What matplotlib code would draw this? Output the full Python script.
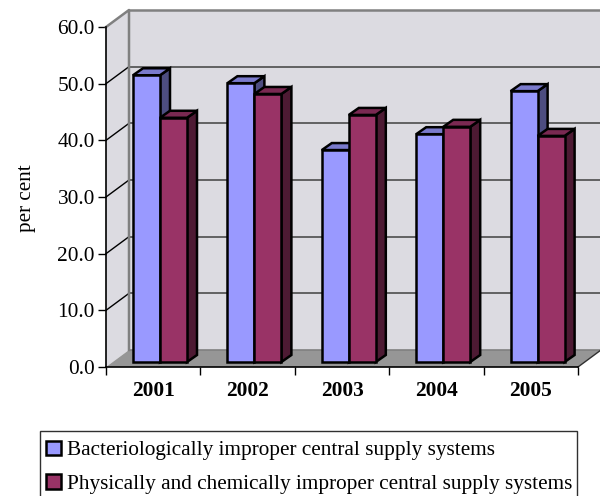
import matplotlib
matplotlib.use('Agg')
import matplotlib.pyplot as plt
from matplotlib.patches import Polygon, Patch, Rectangle

plt.rcParams['font.family'] = ['Liberation Serif', 'DejaVu Serif']

years = ['2001', '2002', '2003', '2004', '2005']
bacterial = [50.6, 49.2, 37.4, 40.2, 47.8]
chemical = [43.1, 47.3, 43.6, 41.5, 39.9]
names = ['Bacteriologically improper central supply systems',
         'Physically and chemically improper central supply systems']
yticks = [0, 10, 20, 30, 40, 50, 60]

W, H = 600, 496
fig = plt.figure(figsize=(W / 100, H / 100), dpi=100)
ax = fig.add_axes([106 / W, 1 - 367 / H, 472 / W, 340 / H])
ax.set_xlim(0, 5)
ax.set_ylim(0, 60)

# pixel sizes -> data units
px = 5 / 472
py = 60 / 340
dx, dy = 23 * px, 17 * py       # depth of the box
bx, by = 10 * px, 7 * py        # depth of a bar
lift_y = 5 * py                 # bars stand a bit inside the floor
bar_w = 27 * px
ymax = 60


def poly(pts, **kw):
    p = Polygon(pts, closed=True, clip_on=False, **kw)
    ax.add_patch(p)


wall = '#dcdbe1'
poly([(dx, dy), (5 + dx, dy), (5 + dx, ymax + dy), (dx, ymax + dy)], fc=wall, ec='none', zorder=1)
poly([(0, 0), (dx, dy), (dx, ymax + dy), (0, ymax)], fc=wall, ec='none', zorder=1)
poly([(0, 0), (5, 0), (5 + dx, dy), (dx, dy)], fc='#969696', ec='none', zorder=1)

for t in yticks[1:-1]:
    ax.plot([dx, 5 + dx], [t + dy, t + dy], color='#404040', lw=1.1, zorder=2, clip_on=False)
    ax.plot([0, dx], [t, t + dy], color='black', lw=1.0, zorder=2, clip_on=False)
ax.plot([0, dx, dx], [ymax, ymax + dy, dy], color='#808080', lw=1.8, zorder=2, clip_on=False)
ax.plot([dx, 5 + dx], [ymax + dy, ymax + dy], color='#808080', lw=1.8, zorder=2, clip_on=False)
ax.plot([dx, 5 + dx], [dy, dy], color='#808080', lw=1.2, zorder=2, clip_on=False)
ax.plot([5, 5 + dx], [0, dy], color='#303030', lw=1.0, zorder=2, clip_on=False)


def bar3d(x, v, front, top, side, z):
    x0, x1 = x, x + bar_w
    y0, y1 = lift_y, v + lift_y
    kw = dict(ec='black', lw=1.8, joinstyle='miter', zorder=z)
    poly([(x1, y0), (x1 + bx, y0 + by), (x1 + bx, y1 + by), (x1, y1)], fc=side, **kw)
    poly([(x0, y1), (x1, y1), (x1 + bx, y1 + by), (x0 + bx, y1 + by)], fc=top, **kw)
    poly([(x0, y0), (x1, y0), (x1, y1), (x0, y1)], fc=front, **kw)


z = 3
for i in range(len(years)):
    bar3d(i + bar_w, bacterial[i], '#9999ff', '#7a7acc', '#4d4d80', z)
    bar3d(i + 2 * bar_w, chemical[i], '#993366', '#7a2952', '#4d1a33', z + 1)
    z += 2

for s in ['top', 'right']:
    ax.spines[s].set_visible(False)
for s in ['left', 'bottom']:
    ax.spines[s].set_linewidth(1.2)
    ax.spines[s].set_zorder(20)

ax.set_yticks(yticks)
ax.set_yticklabels(['%.1f' % t for t in yticks], fontsize=15.4)
ax.set_xticks(range(6))
ax.set_xticklabels([])
ax.tick_params(axis='both', length=6, width=1.0, pad=2)
for i, y in enumerate(years):
    ax.text(i + 0.5, -24 * py, y, ha='center', va='center', fontsize=15.4, fontweight='bold')

fig.text(27 / W, 1 - 198 / H, 'per cent', rotation=90, ha='center', va='center', fontsize=15.2)

# legend frame runs off the bottom of the picture
fig.add_artist(Rectangle((40 / W, 1 - 500 / H), 537 / W, 69 / H, transform=fig.transFigure,
                         fc='white', ec='#303030', lw=1.0))
handles = [Patch(fc='#9999ff', ec='black', lw=1.8), Patch(fc='#993366', ec='black', lw=1.8)]
fig.legend(handles, names, loc='lower left', bbox_to_anchor=(40 / W, 1 - 500 / H),
           bbox_transform=fig.transFigure, fontsize=15.35, frameon=False,
           borderaxespad=0, borderpad=0.3,
           handlelength=0.7, handleheight=0.7, handletextpad=0.27, labelspacing=0.62)

fig.savefig('out.png', dpi=100)
